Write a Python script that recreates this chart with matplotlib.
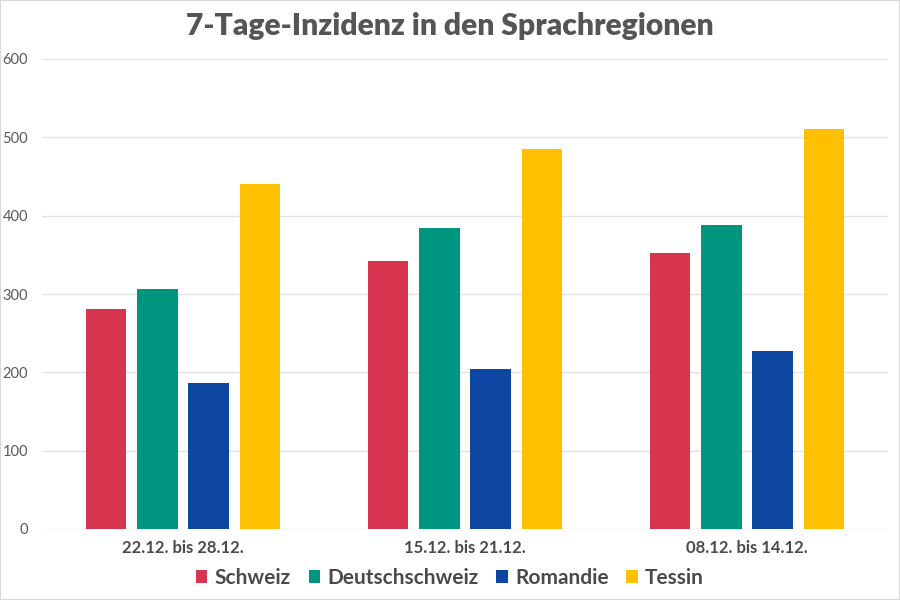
import matplotlib
matplotlib.use("Agg")
import matplotlib.pyplot as plt
import numpy as np
from matplotlib.patches import Rectangle

categories = ["22.12. bis 28.12.", "15.12. bis 21.12.", "08.12. bis 14.12."]
series = ["Schweiz", "Deutschschweiz", "Romandie", "Tessin"]
schweiz = [281, 342, 352]
deutschschweiz = [306, 384, 388]
romandie = [186, 204, 227]
tessin = [440, 485, 511]
values = [schweiz, deutschschweiz, romandie, tessin]
colors = ["#D7354F", "#00957F", "#0E47A1", "#FFC000"]
yticks = [0, 100, 200, 300, 400, 500, 600]

plt.rcParams['font.family'] = ['Lato', 'DejaVu Sans']

fig = plt.figure(figsize=(9, 6), dpi=100)
ax = fig.add_axes([42/900, 1 - 529/600, (888-42)/900, (529-59)/600])

x = np.arange(len(categories))
width = 0.142
step = 0.181
for i, (name, vals, c) in enumerate(zip(series, values, colors)):
    ax.bar(x + (i - 1.5) * step, vals, width=width, color=c, label=name, zorder=3)

ax.set_xlim(-0.5, 2.5)
ax.set_ylim(0, 600)
ax.set_yticks(yticks)
ax.set_yticklabels([str(t) for t in yticks], color="#595959", fontsize=10.5)
ax.set_xticks(x)
ax.set_xticklabels(categories, fontsize=12, fontweight="bold", color="#4a4a4a")
ax.tick_params(axis="both", length=0)
ax.tick_params(axis="y", pad=10)
ax.tick_params(axis="x", pad=8)
ax.grid(axis="y", color="#E3E3E3", linewidth=1, zorder=0)
for s in ax.spines.values():
    s.set_visible(False)

fig.text(0.5, 1 - 26/600, "7-Tage-Inzidenz in den Sprachregionen", ha="center", va="center",
         fontsize=21.6, fontweight="heavy", color="#555555")

leg = fig.legend(loc="center", bbox_to_anchor=(0.5, 1 - 578/600), ncol=4, frameon=False,
                 handlelength=0.55, handleheight=0.55, handletextpad=0.35,
                 columnspacing=0.85, prop={'weight': 'bold', 'size': 15})
for t in leg.get_texts():
    t.set_color("#4a4a4a")

fig.patches.append(Rectangle((0, 0), 1, 1, transform=fig.transFigure, fill=False,
                             edgecolor="#D9D9D9", linewidth=1.5))
fig.savefig("out.png", dpi=100)
